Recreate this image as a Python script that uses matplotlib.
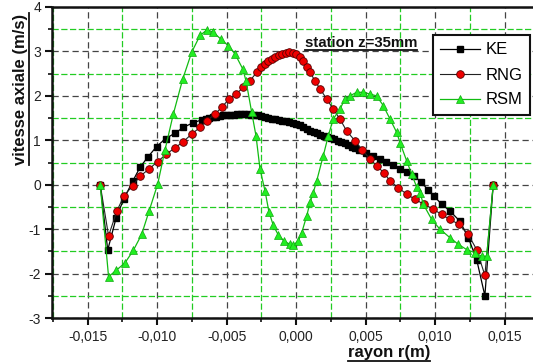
import matplotlib
matplotlib.use("Agg")
import matplotlib.pyplot as plt
from matplotlib.ticker import MultipleLocator, FuncFormatter
from matplotlib.lines import Line2D

plt.rcParams['font.family'] = ['Liberation Sans', 'DejaVu Sans']

# ---------------- data ----------------
ke_x = [-0.0141, -0.01356, -0.01296, -0.0124, -0.01176, -0.01124, -0.01068, -0.01004,
        -0.00939, -0.00872, -0.00812, -0.00745, -0.0068,
        -0.0065, -0.00625, -0.006, -0.00575, -0.0055, -0.00525, -0.005, -0.00475,
        -0.0045, -0.00425, -0.004, -0.00375, -0.0035, -0.00325, -0.003, -0.00275,
        -0.0025, -0.00225, -0.002, -0.00175, -0.0015, -0.00125, -0.001, -0.00075,
        -0.0005, -0.00025, 0.0, 0.00025, 0.0005, 0.00075, 0.001, 0.00125, 0.0015,
        0.00175, 0.002, 0.00225, 0.0025, 0.00275, 0.003, 0.00325, 0.0035, 0.00375,
        0.004, 0.00425, 0.0045,
        0.005, 0.0055, 0.006, 0.0065, 0.007, 0.0075, 0.008, 0.0085, 0.009, 0.0095,
        0.0099, 0.01047, 0.01106, 0.01178, 0.0124, 0.013, 0.01358, 0.01418]
ke_y = [0.0, -1.47, -0.75, -0.32, 0.08, 0.39, 0.62, 0.86,
        1.04, 1.16, 1.29, 1.39, 1.46,
        1.48, 1.50, 1.52, 1.535, 1.55, 1.56, 1.57, 1.575,
        1.58, 1.585, 1.59, 1.59, 1.59, 1.58, 1.57, 1.56,
        1.55, 1.53, 1.50, 1.485, 1.47, 1.455, 1.44, 1.425,
        1.41, 1.39, 1.37, 1.34, 1.30, 1.26, 1.22, 1.19, 1.16,
        1.13, 1.10, 1.075, 1.05, 1.02, 0.99, 0.96, 0.93, 0.895,
        0.86, 0.825, 0.79,
        0.72, 0.65, 0.58, 0.51, 0.44, 0.36, 0.28, 0.19, 0.06, -0.12,
        -0.25, -0.44, -0.59, -0.82, -1.2, -1.7, -2.5, 0.0]

rng_x = [-0.0141, -0.0135, -0.0129, -0.01239, -0.01176, -0.01124, -0.0106, -0.00997,
         -0.00934, -0.00872, -0.00812, -0.00752, -0.00692, -0.00644, -0.00584,
         -0.00536, -0.00483, -0.00433, -0.0038, -0.00332, -0.00284, -0.0025,
         -0.00225, -0.002, -0.00175, -0.0015, -0.00125, -0.001, -0.00075, -0.0005,
         -0.00025, 0.0, 0.00025, 0.0005, 0.00075, 0.001, 0.00135, 0.00171, 0.0022,
         0.00267, 0.00315, 0.00363, 0.00423, 0.00477, 0.00531, 0.00579, 0.0063,
         0.00675, 0.00735, 0.00795, 0.00855, 0.0092, 0.00986, 0.01047, 0.01106,
         0.01171, 0.01238, 0.01299, 0.01358, 0.01418]
rng_y = [0.0, -1.15, -0.59, -0.25, -0.02, 0.19, 0.35, 0.52,
         0.69, 0.83, 0.97, 1.14, 1.29, 1.44, 1.59,
         1.74, 1.93, 2.04, 2.19, 2.34, 2.53, 2.64,
         2.72, 2.79, 2.84, 2.88, 2.92, 2.95, 2.97, 2.98,
         2.97, 2.95, 2.88, 2.78, 2.66, 2.53, 2.34, 2.16, 1.93,
         1.70, 1.48, 1.21, 0.99, 0.78, 0.58, 0.43, 0.27,
         0.09, -0.07, -0.21, -0.33, -0.44, -0.55, -0.67, -0.78,
         -0.89, -1.12, -1.46, -2.04, 0.0]

rsm_x = [-0.0141, -0.0135, -0.01296, -0.01232, -0.01172, -0.01112, -0.01059, -0.00996,
         -0.00944, -0.00884, -0.00817, -0.00752, -0.00692, -0.0064, -0.00596,
         -0.00543, -0.00489, -0.00441, -0.00385, -0.00361, -0.0032, -0.00289,
         -0.0026, -0.00224, -0.00196, -0.00165, -0.00129, -0.00087, -0.00045,
         -0.0002, 0.00015, 0.0004, 0.00076, 0.001, 0.00123, 0.00148, 0.00195,
         0.00231, 0.00267, 0.00315, 0.00351, 0.00387, 0.00435, 0.00483, 0.00531,
         0.00579, 0.00627, 0.00675, 0.00723, 0.00747, 0.00795, 0.00831, 0.00867,
         0.00892, 0.00915, 0.00975, 0.01034, 0.01106, 0.01166, 0.01227, 0.01287,
         0.01335, 0.01371, 0.01418]
rsm_y = [0.0, -2.07, -1.93, -1.76, -1.48, -1.12, -0.60, 0.02,
         0.78, 1.59, 2.37, 2.98, 3.36, 3.49, 3.43,
         3.28, 3.13, 2.95, 2.61, 2.34, 1.63, 1.10,
         0.35, -0.14, -0.61, -0.91, -1.13, -1.27, -1.34,
         -1.36, -1.27, -1.08, -0.70, -0.40, -0.18, 0.09, 0.65,
         1.10, 1.48, 1.70, 1.93, 2.00, 2.08, 2.08, 2.04,
         2.00, 1.78, 1.48, 1.18, 0.95, 0.54, 0.24, -0.05,
         -0.18, -0.44, -0.78, -1.00, -1.19, -1.34, -1.46, -1.53,
         -1.61, -1.61, 0.0]

x_ticks = [-0.015, -0.010, -0.005, 0.000, 0.005, 0.010, 0.015]
y_ticks = [-3, -2, -1, 0, 1, 2, 3, 4]
labels = ['KE', 'RNG', 'RSM']
annotation = 'station z=35mm'
xlabel = 'rayon r(m)'
ylabel = 'vitesse axiale (m/s)'

# ---------------- figure ----------------
W, H = 533, 364
fig = plt.figure(figsize=(W / 100, H / 100), dpi=100)
ax = fig.add_axes([52 / W, 1 - 318 / H, 1 - 52 / W + 0.002, (318 - 7) / H])

green = '#22ee22'
green_edge = '#11aa11'

ax.plot(ke_x, ke_y, color='black', lw=0.9, marker='s', ms=5, mfc='black',
        mec='black', label=labels[0], zorder=5)
ax.plot(rng_x, rng_y, color='#222222', lw=0.8, marker='o', ms=5.5, mfc='#ee0000',
        mec='#550000', mew=0.6, label=labels[1], zorder=6)
ax.plot(rsm_x, rsm_y, color='#11bb11', lw=0.9, marker='^', ms=6, mfc=green,
        mec=green_edge, mew=0.5, label=labels[2], zorder=7)

ax.set_xlim(-0.01757, 0.01712)
ax.set_ylim(-3, 4)
ax.set_xticks(x_ticks)
ax.set_yticks(y_ticks)
ax.xaxis.set_minor_locator(MultipleLocator(0.0025))
ax.yaxis.set_minor_locator(MultipleLocator(0.5))
ax.xaxis.set_major_formatter(FuncFormatter(lambda v, p: ('%.3f' % v).replace('.', ',').replace('-0,000', '0,000')))
ax.yaxis.set_major_formatter(FuncFormatter(lambda v, p: '%d' % round(v)))

ax.grid(which='major', color='#444444', ls=(0, (5, 3)), lw=0.9)
ax.grid(which='minor', color='#22cc22', ls=(0, (5, 2)), lw=0.9)
ax.set_axisbelow(True)

for s in ['left', 'bottom', 'top']:
    ax.spines[s].set_linewidth(1.8)
    ax.spines[s].set_color('#111111')
ax.spines['right'].set_visible(False)

ax.tick_params(which='major', direction='out', length=5, width=1.5, colors='#111111',
               labelsize=10, labelcolor='#222222', pad=3)
ax.tick_params(which='minor', direction='out', length=3, width=1.2, colors='#111111')
ax.tick_params(axis='x', pad=3.5)

fig.text(20 / W, 1 - 89 / H, ylabel, rotation=90, ha='center', va='center',
         fontsize=12, fontweight='bold', color='#111111')
fig.text(389 / W, 1 - 353 / H, xlabel, ha='center', va='center',
         fontsize=12, fontweight='bold', color='#111111')
ax.text(0.00466, 3.2, annotation, ha='center', va='center', fontsize=10.8,
        fontweight='bold', color='#111111')

leg = ax.legend(loc='upper left', bbox_to_anchor=((432 - 52) / (W - 52), 1 - (35 - 7) / 311),
                fontsize=12, frameon=True, fancybox=False, framealpha=1,
                edgecolor='#111111', borderpad=0.45, labelspacing=0.6,
                handlelength=2.4, handletextpad=0.3, borderaxespad=0)
leg.get_frame().set_linewidth(1.5)

# underlines
fig.canvas.draw()
r = fig.canvas.get_renderer()
for t in [t for t in fig.texts] + [ax.texts[0]]:
    bb = t.get_window_extent(r)
    if t.get_rotation() == 90:
        xx = bb.x1 + 1
        fig.add_artist(Line2D([xx / W, xx / W], [bb.y0 / H, bb.y1 / H], color='#111111', lw=1.3))
    else:
        yy = bb.y0 - 0.5
        fig.add_artist(Line2D([bb.x0 / W, bb.x1 / W], [yy / H, yy / H], color='#111111', lw=1.3))

fig.savefig('out.png', dpi=100)
